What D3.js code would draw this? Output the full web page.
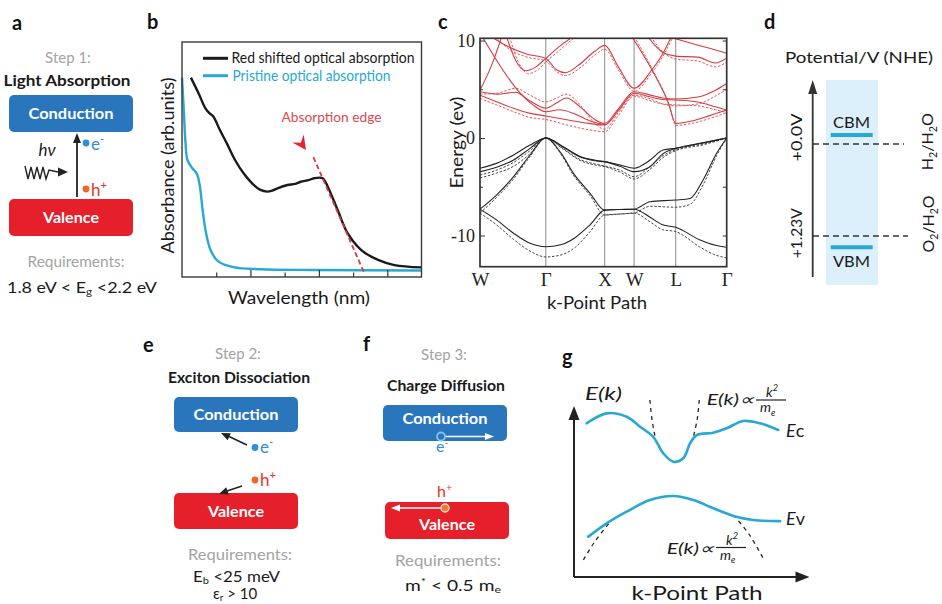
<!DOCTYPE html>
<html>
<head>
<meta charset="utf-8">
<script src="https://cdn.jsdelivr.net/npm/d3@7.9.0/dist/d3.min.js"></script>
<style>
  body { margin: 0; background: #fff; }
  svg { display: block; }
</style>
</head>
<body>
<svg id="fig" width="942" height="604"></svg>
<script>
// ---------- data ----------
// b: absorption spectra, x in tick units (0-7), absorbance 0-1
const redShifted = [[0.26,0.852],[0.5,0.78],[0.68,0.722],[0.8,0.70],[0.92,0.685],[1.1,0.63],[1.31,0.571],[1.55,0.50],[1.80,0.443],[2.05,0.40],[2.29,0.372],[2.49,0.365],[2.65,0.37],[2.79,0.379],[3.08,0.393],[3.3,0.398],[3.47,0.407],[3.7,0.414],[3.86,0.422],[4.11,0.422],[4.26,0.386],[4.55,0.286],[4.84,0.187],[5.24,0.115],[5.73,0.073],[6.21,0.051],[7.0,0.041]];
const pristine = [[0,0.852],[0.05,0.72],[0.1,0.58],[0.16,0.5],[0.3,0.465],[0.43,0.443],[0.52,0.39],[0.6,0.29],[0.7,0.19],[0.85,0.11],[1.05,0.068],[1.5,0.042],[2.3,0.033],[3.8,0.030],[7.0,0.028]];
const edgeLine = [[3.84,0.512],[5.33,0.016]];
const wlTicksMajor = [2,4,6];
const wlTicksMinor = [1,3,5];

// c: band structure along W-Γ-X-W-L-Γ (k in 2π/a), energy in eV
const kTicks = [0, 1.118, 2.118, 2.618, 3.325, 4.191];
const kLabels = ["W", "Γ", "X", "W", "L", "Γ"];
const eTicks = [-10, 0, 10];
const eMinor = [-5, 5];
const valenceSolid = [
  [[0,-7.3],[0.28,-8.4],[0.57,-9.77],[0.85,-10.8],[1.118,-11.15],[1.37,-10.95],[1.62,-10.2],[1.87,-8.9],[2.118,-7.4],[2.37,-7.33],[2.618,-7.3],[2.89,-8.13],[3.1,-8.9],[3.325,-9.16],[3.74,-10.46],[4.0,-11.0],[4.191,-11.2]],
  [[0,-7.3],[0.28,-5.85],[0.57,-3.97],[0.85,-1.74],[1.118,0],[1.37,-1.5],[1.585,-3.6],[1.87,-5.67],[2.118,-7.4],[2.37,-7.33],[2.618,-7.3],[2.89,-6.53],[3.325,-6.36],[3.57,-6.2],[3.79,-4.3],[4.02,-1.57],[4.191,0]],
  [[0,-3.1],[0.28,-2.6],[0.57,-1.74],[0.85,-0.72],[1.118,0],[1.415,-0.89],[1.70,-1.9],[1.98,-2.3],[2.118,-2.4],[2.38,-2.77],[2.618,-3.1],[2.89,-2.26],[3.11,-1.23],[3.325,-1.06],[3.79,-0.48],[4.191,0]],
  [[0,-3.45],[0.28,-3.0],[0.57,-2.26],[0.85,-1.06],[1.118,0],[1.415,-0.95],[1.70,-1.95],[1.98,-2.35],[2.118,-2.45],[2.38,-2.9],[2.618,-3.45],[2.89,-2.94],[3.11,-1.6],[3.325,-1.06],[3.79,-0.5],[4.191,0]]
];
const valenceDashed = [
  [[0,-7.7],[0.28,-8.9],[0.57,-10.4],[0.85,-11.6],[1.118,-12.2],[1.37,-12.0],[1.62,-11.2],[1.87,-9.6],[2.118,-7.9],[2.37,-7.8],[2.618,-7.7],[2.89,-8.6],[3.1,-9.4],[3.325,-9.6],[3.74,-11.2],[4.0,-12.0],[4.191,-12.3]],
  [[0,-7.7],[0.28,-6.1],[0.57,-4.2],[0.85,-1.9],[1.118,0],[1.37,-1.6],[1.585,-3.8],[1.87,-5.9],[2.118,-7.9],[2.37,-7.8],[2.618,-7.7],[2.89,-7.0],[3.325,-7.1],[3.57,-6.8],[3.79,-4.8],[4.02,-1.8],[4.191,0]],
  [[0,-3.8],[0.28,-3.3],[0.57,-2.5],[0.85,-1.3],[1.118,0],[1.415,-1.1],[1.70,-2.2],[1.98,-2.7],[2.118,-2.87],[2.38,-3.3],[2.618,-3.97],[2.89,-2.9],[3.11,-1.8],[3.325,-1.2],[3.79,-0.6],[4.191,0]],
  [[0,-4.1],[0.28,-3.6],[0.57,-2.9],[0.85,-1.6],[1.118,0],[1.415,-1.15],[1.70,-2.3],[1.98,-2.8],[2.118,-2.95],[2.38,-3.5],[2.618,-4.2],[2.89,-3.2],[3.11,-2.0],[3.325,-1.3],[3.79,-0.7],[4.191,0]]
];
const conductionSolid = [
  [[0,4.4],[0.28,3.72],[0.57,3.05],[0.85,2.53],[1.118,2.26],[1.5,1.85],[1.85,1.5],[2.118,1.33],[2.35,2.8],[2.618,4.6],[2.9,4.2],[3.1,3.95],[3.325,3.9],[3.7,3.7],[4.0,3.2],[4.191,2.87]],
  [[0,4.75],[0.3,4.5],[0.6,4.7],[0.85,3.8],[1.118,3.05],[1.3,3.6],[1.47,4.1],[1.7,3.2],[1.95,1.9],[2.118,1.5],[2.35,3.0],[2.618,4.75],[2.9,4.4],[3.1,4.1],[3.325,4.0],[3.7,4.2],[4.0,4.9],[4.191,5.6]],
  [[0.04,10.4],[0.3,7.8],[0.6,5.2],[0.9,3.4],[1.118,2.7],[1.35,2.9],[1.6,2.5],[1.9,1.7],[2.118,1.4]],
  [[0.19,10.4],[0.5,9.3],[0.8,8.6],[1.118,8.17],[1.3,7.0],[1.45,6.7],[1.7,7.6],[1.95,8.9],[2.118,9.5],[2.35,7.3],[2.618,5.1],[2.92,7.0],[3.1,8.6],[3.25,10.4]],
  [[0,4.9],[0.2,7.5],[0.37,10.4]],
  [[0.45,10.4],[0.62,7.8],[0.78,6.9],[0.95,7.3],[1.118,8.17],[1.35,9.4],[1.58,10.4]],
  [[2.58,10.4],[2.92,7.0],[3.2,3.6],[3.325,1.5],[3.6,1.75],[3.9,2.3],[4.191,2.87]],
  [[2.85,10.4],[3.1,8.8],[3.325,8.4],[3.7,8.3],[4.0,7.7],[4.191,8.2]],
  [[3.2,10.4],[3.6,9.7],[3.9,9.2],[4.191,8.7]]
];
const conductionDashed = [
  [[0,4.07],[0.28,3.4],[0.57,2.7],[0.85,2.1],[1.118,1.9],[1.5,1.3],[1.85,0.85],[2.118,0.65],[2.35,2.3],[2.618,4.3],[2.9,3.8],[3.1,3.5],[3.325,3.4],[3.7,3.3],[4.0,2.9],[4.191,2.6]],
  [[0,4.5],[0.3,4.6],[0.6,5.1],[0.85,4.4],[1.118,3.7],[1.3,4.1],[1.47,4.5],[1.7,3.4],[1.95,1.5],[2.118,0.9],[2.35,2.6],[2.618,4.4],[2.9,4.0],[3.1,3.5],[3.325,3.3],[3.7,3.5],[4.0,4.3],[4.191,5.0]],
  [[0.25,10.4],[0.5,9.1],[0.8,8.3],[1.118,7.9],[1.3,6.8],[1.45,6.4],[1.7,7.2],[1.95,8.5],[2.118,9.1],[2.35,7.0],[2.618,4.8],[2.92,6.7],[3.1,8.3],[3.28,10.4]],
  [[0.5,10.4],[0.66,7.7],[0.82,6.6],[0.98,7.0],[1.118,7.8],[1.35,9.0],[1.62,10.4]],
  [[2.62,10.4],[2.95,6.8],[3.22,3.3],[3.325,1.3],[3.6,1.5],[3.9,2.0],[4.191,2.6]],
  [[2.9,10.4],[3.15,8.6],[3.325,8.1],[3.7,7.9],[4.0,7.3],[4.191,7.8]]
];

// d: band edges vs redox potentials (V vs NHE)
const bandEdges = [{ name: "CBM", v: -0.12 }, { name: "VBM", v: 1.38 }];
const redox = [{ v: 0, tick: "+0.0V", couple: ["H", "2", "/H", "2", "O"] },
               { v: 1.23, tick: "+1.23V", couple: ["O", "2", "/H", "2", "O"] }];

// g: schematic bands, arbitrary units 0-10
const ecCurve = [[0.54,8.99],[1.39,9.57],[2.24,9.37],[2.81,8.79],[3.37,8.2],[3.80,7.23],[4.23,6.74],[4.65,6.94],[4.94,7.82],[5.22,8.30],[5.93,8.44],[6.50,8.70],[7.20,9.12],[7.91,8.99],[8.69,8.60]];
const evCurve = [[0.61,2.36],[1.39,3.14],[2.24,3.82],[3.23,4.50],[4.23,4.74],[5.08,4.50],[5.93,4.02],[6.78,3.57],[7.63,3.33],[8.77,3.27]];
const parabolaFits = [
  [[3.23,10.35],[3.32,9.2],[3.45,8.2]],
  [[5.33,10.35],[5.24,9.2],[5.08,8.2]],
  [[0.4,1.0],[0.9,2.1],[1.6,3.33]],
  [[6.78,3.63],[7.45,2.5],[8.05,1.09]]
];

// ---------- helpers ----------
const FONT = "Lato, 'Open Sans', sans-serif";
const SERIF = "'Liberation Serif', 'DejaVu Serif', serif";
const BLUE_BOX = "#2a76bd", RED_BOX = "#e6202a", CYAN = "#29a8d4";
const svg = d3.select("#fig");
svg.append("rect").attr("width", 942).attr("height", 604).attr("fill", "#fff");

function label(g, x, y, s, o = {}) {
  const t = g.append("text")
    .attr("x", x).attr("y", y)
    .attr("font-family", o.family || FONT)
    .attr("font-size", o.size || 15)
    .attr("font-weight", o.weight || "normal")
    .attr("font-style", o.style || "normal")
    .attr("fill", o.fill || "#1a1a1a")
    .attr("text-anchor", o.anchor || "start")
    .text(s);
  if (o.len) t.attr("textLength", o.len).attr("lengthAdjust", "spacingAndGlyphs");
  if (o.rotate) t.attr("transform", `rotate(${o.rotate},${x},${y})`);
  return t;
}

function arrowHead(g, x, y, angle, len, half, fill) {
  return g.append("path")
    .attr("d", `M0,0 L${-len},${-half} L${-len},${half} Z`)
    .attr("transform", `translate(${x},${y}) rotate(${angle})`)
    .attr("fill", fill);
}

// text with a small raised or lowered part
function scripted(g, x, y, parts, o = {}) {
  const t = label(g, x, y, "", o);
  const fs = o.size || 15;
  let shift = 0;
  parts.forEach(p => {
    const s = t.append("tspan").text(p.t);
    const want = p.sup ? -fs * 0.4 : p.sub ? fs * (o.subDrop || 0.25) : 0;
    s.attr("dy", want - shift);
    shift = want;
    if (p.sup || p.sub) s.attr("font-size", fs * 0.65);
    if (p.style) s.attr("font-style", p.style);
  });
  return t;
}

// panel letters
[["a", 12, 30], ["b", 147, 29], ["c", 438, 29], ["d", 764, 29], ["e", 143, 352], ["f", 363, 351], ["g", 562, 364]]
  .forEach(([s, x, y]) => label(svg, x, y, s, { size: 20, weight: "bold", fill: "#111" }));

// ---------- panel a / e / f : process schematics ----------
function box(g, x, y, w, h, fill, text, ty) {
  g.append("rect").attr("x", x).attr("y", y).attr("width", w).attr("height", h)
    .attr("rx", 5).attr("fill", fill);
  label(g, x + w / 2, ty, text, { size: 16, weight: "bold", fill: "#fff", anchor: "middle", len: text === "Conduction" ? 85 : 56 });
}
function carrierDot(g, x, y, fill) {
  g.append("circle").attr("cx", x).attr("cy", y).attr("r", 3.4).attr("fill", fill);
}

// a
const ga = svg.append("g");
label(ga, 68, 63, "Step 1:", { size: 15, fill: "#a3a3a3", anchor: "middle" });
label(ga, 67, 86, "Light Absorption", { size: 15, weight: "bold", anchor: "middle", len: 127 });
box(ga, 9, 95, 124, 37, BLUE_BOX, "Conduction", 119);
box(ga, 9, 199, 124, 37, RED_BOX, "Valence", 223);
ga.append("line").attr("x1", 77).attr("y1", 197).attr("x2", 77).attr("y2", 142)
  .attr("stroke", "#222").attr("stroke-width", 1.8);
arrowHead(ga, 77, 133, -90, 10, 4, "#222");
carrierDot(ga, 86, 143, "#2d8fd5");
scripted(ga, 91, 150, [{ t: "e" }, { t: "-", sup: true }], { size: 17, fill: "#2d8fd5" });
carrierDot(ga, 86, 189, "#f0652a");
scripted(ga, 91, 196, [{ t: "h" }, { t: "+", sup: true }], { size: 17, fill: "#e3342a" });
label(ga, 47, 156, "hν", { size: 17, style: "italic", anchor: "middle" });
ga.append("path")
  .attr("d", "M25,166 L28,179 L31,167 L34,179 L37,167 L40,179 L43,167 L46,179 L49,170 L58,172")
  .attr("fill", "none").attr("stroke", "#222").attr("stroke-width", 1.4);
arrowHead(ga, 68, 172, 0, 10, 4.5, "#222");
label(ga, 76, 267, "Requirements:", { size: 16, fill: "#a3a3a3", anchor: "middle", len: 97 });
scripted(ga, 7, 293, [{ t: "1.8 eV < E" }, { t: "g", sub: true }, { t: " <2.2 eV" }], { size: 15, len: 150, subDrop: 0.15 });

// e
const ge = svg.append("g");
label(ge, 238, 359, "Step 2:", { size: 15, fill: "#a3a3a3", anchor: "middle" });
label(ge, 239, 383, "Exciton Dissociation", { size: 15, weight: "bold", anchor: "middle", len: 142 });
box(ge, 174, 397, 124, 35, BLUE_BOX, "Conduction", 420);
box(ge, 174, 493, 124, 36, RED_BOX, "Valence", 517);
ge.append("line").attr("x1", 247).attr("y1", 445).attr("x2", 229).attr("y2", 436.5).attr("stroke", "#222").attr("stroke-width", 1.6);
arrowHead(ge, 221, 433, 205, 9, 3.8, "#222");
carrierDot(ge, 255, 447.5, "#2d8fd5");
scripted(ge, 260, 453, [{ t: "e" }, { t: "-", sup: true }], { size: 17, fill: "#2d8fd5" });
ge.append("line").attr("x1", 242).attr("y1", 486).attr("x2", 227).attr("y2", 491).attr("stroke", "#222").attr("stroke-width", 1.6);
arrowHead(ge, 219, 494, 160, 9, 3.8, "#222");
carrierDot(ge, 255, 480, "#f0652a");
scripted(ge, 260, 486, [{ t: "h" }, { t: "+", sup: true }], { size: 17, fill: "#e3342a" });
label(ge, 240, 560, "Requirements:", { size: 16, fill: "#a3a3a3", anchor: "middle", len: 104 });
scripted(ge, 193, 582, [{ t: "E" }, { t: "b", sub: true }, { t: " <25 meV" }], { size: 15, len: 87, subDrop: 0.1 });
scripted(ge, 213, 599, [{ t: "ε" }, { t: "r", sub: true }, { t: " > 10" }], { size: 15, subDrop: 0.1 });

// f
const gf = svg.append("g");
label(gf, 444, 360, "Step 3:", { size: 15, fill: "#a3a3a3", anchor: "middle" });
label(gf, 446, 391, "Charge Diffusion", { size: 15, weight: "bold", anchor: "middle", len: 118 });
box(gf, 383, 405, 124, 36, BLUE_BOX, "Conduction", 424);
box(gf, 385, 502, 124, 37, RED_BOX, "Valence", 530);
gf.append("line").attr("x1", 445).attr("y1", 436.5).attr("x2", 486).attr("y2", 436.5).attr("stroke", "#fff").attr("stroke-width", 1.6);
arrowHead(gf, 494, 436.5, 0, 9, 3.5, "#fff");
gf.append("circle").attr("cx", 441).attr("cy", 436.5).attr("r", 4).attr("fill", "none").attr("stroke", "#7cc4ee").attr("stroke-width", 1.8);
scripted(gf, 436, 452, [{ t: "e" }, { t: "-", sup: true }], { size: 16, fill: "#2d8fd5" });
gf.append("line").attr("x1", 441).attr("y1", 508).attr("x2", 399).attr("y2", 508).attr("stroke", "#fff").attr("stroke-width", 1.6);
arrowHead(gf, 391, 508, 180, 9, 3.5, "#fff");
gf.append("circle").attr("cx", 445).attr("cy", 508).attr("r", 4).attr("fill", "#f07a35").attr("stroke", "#fde0c0").attr("stroke-width", 1.4);
scripted(gf, 437, 497, [{ t: "h" }, { t: "+", sup: true }], { size: 16, fill: "#e3342a" });
label(gf, 448, 566, "Requirements:", { size: 16, fill: "#a3a3a3", anchor: "middle", len: 106 });
scripted(gf, 405, 591, [{ t: "m" }, { t: "*", sup: true }, { t: " < 0.5 m" }, { t: "e", sub: true }], { size: 16, len: 96, subDrop: 0.15 });

// ---------- panel b : absorption ----------
const gb = svg.append("g");
const xB = d3.scaleLinear().domain([0, 7]).range([182, 421.5]);
const yB = d3.scaleLinear().domain([0, 1]).range([277, 43]);
const lineB = d3.line().x(d => xB(d[0])).y(d => yB(d[1])).curve(d3.curveCatmullRom.alpha(0.5));

gb.append("path").datum(pristine).attr("d", lineB).attr("fill", "none").attr("stroke", CYAN).attr("stroke-width", 2.4);
gb.append("path").datum(redShifted).attr("d", lineB).attr("fill", "none").attr("stroke", "#1a1a1a").attr("stroke-width", 2.4);
gb.append("path").datum(edgeLine).attr("d", d3.line().x(d => xB(d[0])).y(d => yB(d[1])))
  .attr("fill", "none").attr("stroke", "#d63a44").attr("stroke-width", 1.8).attr("stroke-dasharray", "5,3");
arrowHead(gb, 306, 150, 55, 14, 7, "#e3262e").attr("d", "M0,0 L-14,-7 L-9,0 L-14,7 Z");

gb.append("g").attr("transform", "translate(0,277)")
  .call(d3.axisBottom(xB).tickValues(wlTicksMajor).tickSize(-7).tickFormat(""))
  .call(g => g.select(".domain").remove())
  .call(g => g.selectAll("line").attr("stroke", "#333").attr("stroke-width", 1.2));
gb.append("g").attr("transform", "translate(0,277)")
  .call(d3.axisBottom(xB).tickValues(wlTicksMinor).tickSize(-4.5).tickFormat(""))
  .call(g => g.select(".domain").remove())
  .call(g => g.selectAll("line").attr("stroke", "#333").attr("stroke-width", 1.2));
gb.append("rect").attr("x", 182).attr("y", 42).attr("width", 239.5).attr("height", 235)
  .attr("fill", "none").attr("stroke", "#3a3a3a").attr("stroke-width", 1.4);

// legend
gb.append("line").attr("x1", 203).attr("x2", 228).attr("y1", 58.3).attr("y2", 58.3).attr("stroke", "#1a1a1a").attr("stroke-width", 3);
gb.append("line").attr("x1", 203).attr("x2", 228).attr("y1", 75.7).attr("y2", 75.7).attr("stroke", CYAN).attr("stroke-width", 3);
label(gb, 231.5, 63, "Red shifted optical absorption", { size: 15, len: 183 });
label(gb, 232.5, 80.5, "Pristine optical absorption", { size: 15, fill: CYAN, len: 158 });
label(gb, 331.5, 121.5, "Absorption edge", { size: 14, fill: "#d94a50", anchor: "middle", len: 100 });
label(gb, 174, 165.5, "Absorbance (arb.units)", { size: 17, anchor: "middle", rotate: -90, len: 176 });
label(gb, 299, 304, "Wavelength (nm)", { size: 17, anchor: "middle", len: 142 });

// ---------- panel c : band structure ----------
const gc = svg.append("g");
const xC = d3.scaleLinear().domain([0, 4.191]).range([480, 726.7]);
const yC = d3.scaleLinear().domain([-13.2, 10.23]).range([266.7, 38.3]);
svg.append("defs").append("clipPath").attr("id", "clipC")
  .append("rect").attr("x", 480).attr("y", 38.3).attr("width", 246.7).attr("height", 228.4);

gc.selectAll("line.kline").data(kTicks.slice(1, 5)).join("line").attr("class", "kline")
  .attr("x1", d => xC(d)).attr("x2", d => xC(d)).attr("y1", 38.3).attr("y2", 266.7)
  .attr("stroke", "#8a8a8a").attr("stroke-width", 1);

const lineC = d3.line().x(d => xC(d[0])).y(d => yC(d[1])).curve(d3.curveMonotoneX);
const bands = gc.append("g").attr("clip-path", "url(#clipC)");
bands.selectAll("path.cd").data(conductionDashed).join("path").attr("class", "cd")
  .attr("d", lineC).attr("fill", "none").attr("stroke", "#d9484e").attr("stroke-width", 0.9).attr("stroke-dasharray", "2.5,1.6");
bands.selectAll("path.cs").data(conductionSolid).join("path").attr("class", "cs")
  .attr("d", lineC).attr("fill", "none").attr("stroke", "#d43c42").attr("stroke-width", 1.1);
bands.selectAll("path.vd").data(valenceDashed).join("path").attr("class", "vd")
  .attr("d", lineC).attr("fill", "none").attr("stroke", "#333").attr("stroke-width", 0.9).attr("stroke-dasharray", "2.5,1.6");
bands.selectAll("path.vs").data(valenceSolid).join("path").attr("class", "vs")
  .attr("d", lineC).attr("fill", "none").attr("stroke", "#222").attr("stroke-width", 1.1);

gc.append("g").attr("transform", "translate(480,0)")
  .call(d3.axisLeft(yC).tickValues(eTicks).tickSize(-5).tickPadding(5).tickFormat(d => d < 0 ? "-" + Math.abs(d) : d))
  .call(g => g.select(".domain").remove())
  .call(g => g.selectAll("line").attr("stroke", "#333"))
  .call(g => g.selectAll("text").attr("font-family", SERIF).attr("font-size", 18).attr("fill", "#222"));
gc.append("g").attr("transform", "translate(480,0)")
  .call(d3.axisLeft(yC).tickValues(eMinor).tickSize(-3).tickFormat(""))
  .call(g => g.select(".domain").remove())
  .call(g => g.selectAll("line").attr("stroke", "#333"));
gc.append("g").attr("transform", "translate(726.7,0)")
  .call(d3.axisRight(yC).tickValues(eTicks.concat(eMinor)).tickSize(-4).tickFormat(""))
  .call(g => g.select(".domain").remove())
  .call(g => g.selectAll("line").attr("stroke", "#333"));
gc.append("g").attr("transform", "translate(0,266.7)")
  .call(d3.axisBottom(xC).tickValues(kTicks).tickSize(0).tickPadding(6).tickFormat((d, i) => kLabels[i]))
  .call(g => g.select(".domain").remove())
  .call(g => g.selectAll("text").attr("font-family", SERIF).attr("font-size", 19).attr("fill", "#222"));
gc.append("rect").attr("x", 480).attr("y", 38.3).attr("width", 246.7).attr("height", 228.4)
  .attr("fill", "none").attr("stroke", "#333").attr("stroke-width", 1.7);
label(gc, 463, 142.5, "Energy (ev)", { size: 17, anchor: "middle", rotate: -90, len: 92 });
label(gc, 597, 309, "k-Point Path", { size: 17, anchor: "middle", len: 100 });

// ---------- panel d : potentials ----------
const gd = svg.append("g");
const yD = d3.scaleLinear().domain([0, 1.23]).range([144, 236]);
gd.append("rect").attr("x", 826).attr("y", 80).attr("width", 52).attr("height", 205).attr("fill", "#dcf0fb");
gd.append("line").attr("x1", 812.7).attr("x2", 812.7).attr("y1", 277).attr("y2", 90).attr("stroke", "#333").attr("stroke-width", 1.8);
arrowHead(gd, 812.7, 80, -90, 14, 4.5, "#333");
label(gd, 785, 63, "Potential/V (NHE)", { size: 16, len: 148 });

gd.selectAll("line.redox").data(redox).join("line").attr("class", "redox")
  .attr("x1", 813).attr("x2", d => d.v > 1 ? 908 : 904).attr("y1", d => yD(d.v)).attr("y2", d => yD(d.v))
  .attr("stroke", "#333").attr("stroke-width", 1.4).attr("stroke-dasharray", "6,4");
gd.selectAll("line.edge").data(bandEdges).join("line").attr("class", "edge")
  .attr("x1", 830.7).attr("x2", 872.7).attr("y1", d => yD(d.v)).attr("y2", d => yD(d.v))
  .attr("stroke", CYAN).attr("stroke-width", 4);
bandEdges.forEach(d => label(gd, 851.5, d.v < 0.5 ? yD(d.v) - 7 : yD(d.v) + 20, d.name,
  { size: 16, anchor: "middle", len: 37 }));
redox.forEach(d => {
  const yc = d.v < 0.5 ? 137.5 : 233.3;
  label(gd, 802, yc, d.tick, { size: 16, anchor: "middle", rotate: -90, len: d.v < 0.5 ? 48 : 50 });
  const yc2 = d.v < 0.5 ? 141.7 : 224;
  const t = label(gd, 933.5, yc2, "", { size: 16, anchor: "middle", rotate: -90, len: 57 });
  d.couple.forEach((s, i) => {
    const ts = t.append("tspan").text(s);
    if (i % 2 === 1) ts.attr("font-size", 10.5).attr("dy", 4);
    else if (i > 0) ts.attr("dy", -4);
  });
});

// ---------- panel g : effective mass schematic ----------
const gg = svg.append("g");
const xG = d3.scaleLinear().domain([0, 10]).range([574, 809]);
const yG = d3.scaleLinear().domain([0, 10]).range([577, 406]);
gg.append("line").attr("x1", xG(0)).attr("x2", xG(0)).attr("y1", yG(0)).attr("y2", 418)
  .attr("stroke", "#222").attr("stroke-width", 2);
arrowHead(gg, xG(0), 406, -90, 14, 5.5, "#222");
gg.append("line").attr("x1", xG(0)).attr("x2", 797).attr("y1", yG(0)).attr("y2", yG(0))
  .attr("stroke", "#222").attr("stroke-width", 2);
arrowHead(gg, 809.5, yG(0), 0, 14, 5.5, "#222");

const lineG = d3.line().x(d => xG(d[0])).y(d => yG(d[1])).curve(d3.curveCatmullRom.alpha(0.5));
gg.selectAll("path.fit").data(parabolaFits).join("path").attr("class", "fit")
  .attr("d", lineG).attr("fill", "none").attr("stroke", "#222").attr("stroke-width", 1.3).attr("stroke-dasharray", "4,4");
[ecCurve, evCurve].forEach(c => gg.append("path").datum(c).attr("d", lineG)
  .attr("fill", "none").attr("stroke", CYAN).attr("stroke-width", 2.6).attr("stroke-linecap", "round"));

label(gg, 585, 400, "E(k)", { size: 18, style: "italic", len: 37 });
function massFormula(x, y, fx, fy) {
  label(gg, x, y, "E(k)∝", { size: 16, style: "italic", len: 47 });
  gg.append("line").attr("x1", fx).attr("x2", fx + 30).attr("y1", fy).attr("y2", fy).attr("stroke", "#222").attr("stroke-width", 1.2);
  scripted(gg, fx + 10, fy - 3, [{ t: "k" }, { t: "2", sup: true }], { size: 14, style: "italic" });
  scripted(gg, fx + 4, fy + 12, [{ t: "m" }, { t: "e", sub: true }], { size: 14, style: "italic" });
}
massFormula(706.7, 405, 756, 400);
massFormula(666.7, 553.5, 716, 547.5);
scripted(gg, 786, 437, [{ t: "E", style: "italic" }, { t: "c", style: "normal" }], { size: 18 });
scripted(gg, 786, 525, [{ t: "E", style: "italic" }, { t: "v", style: "normal" }], { size: 18 });
label(gg, 697, 600, "k-Point Path", { size: 19, anchor: "middle", len: 131 });
</script>
</body>
</html>
